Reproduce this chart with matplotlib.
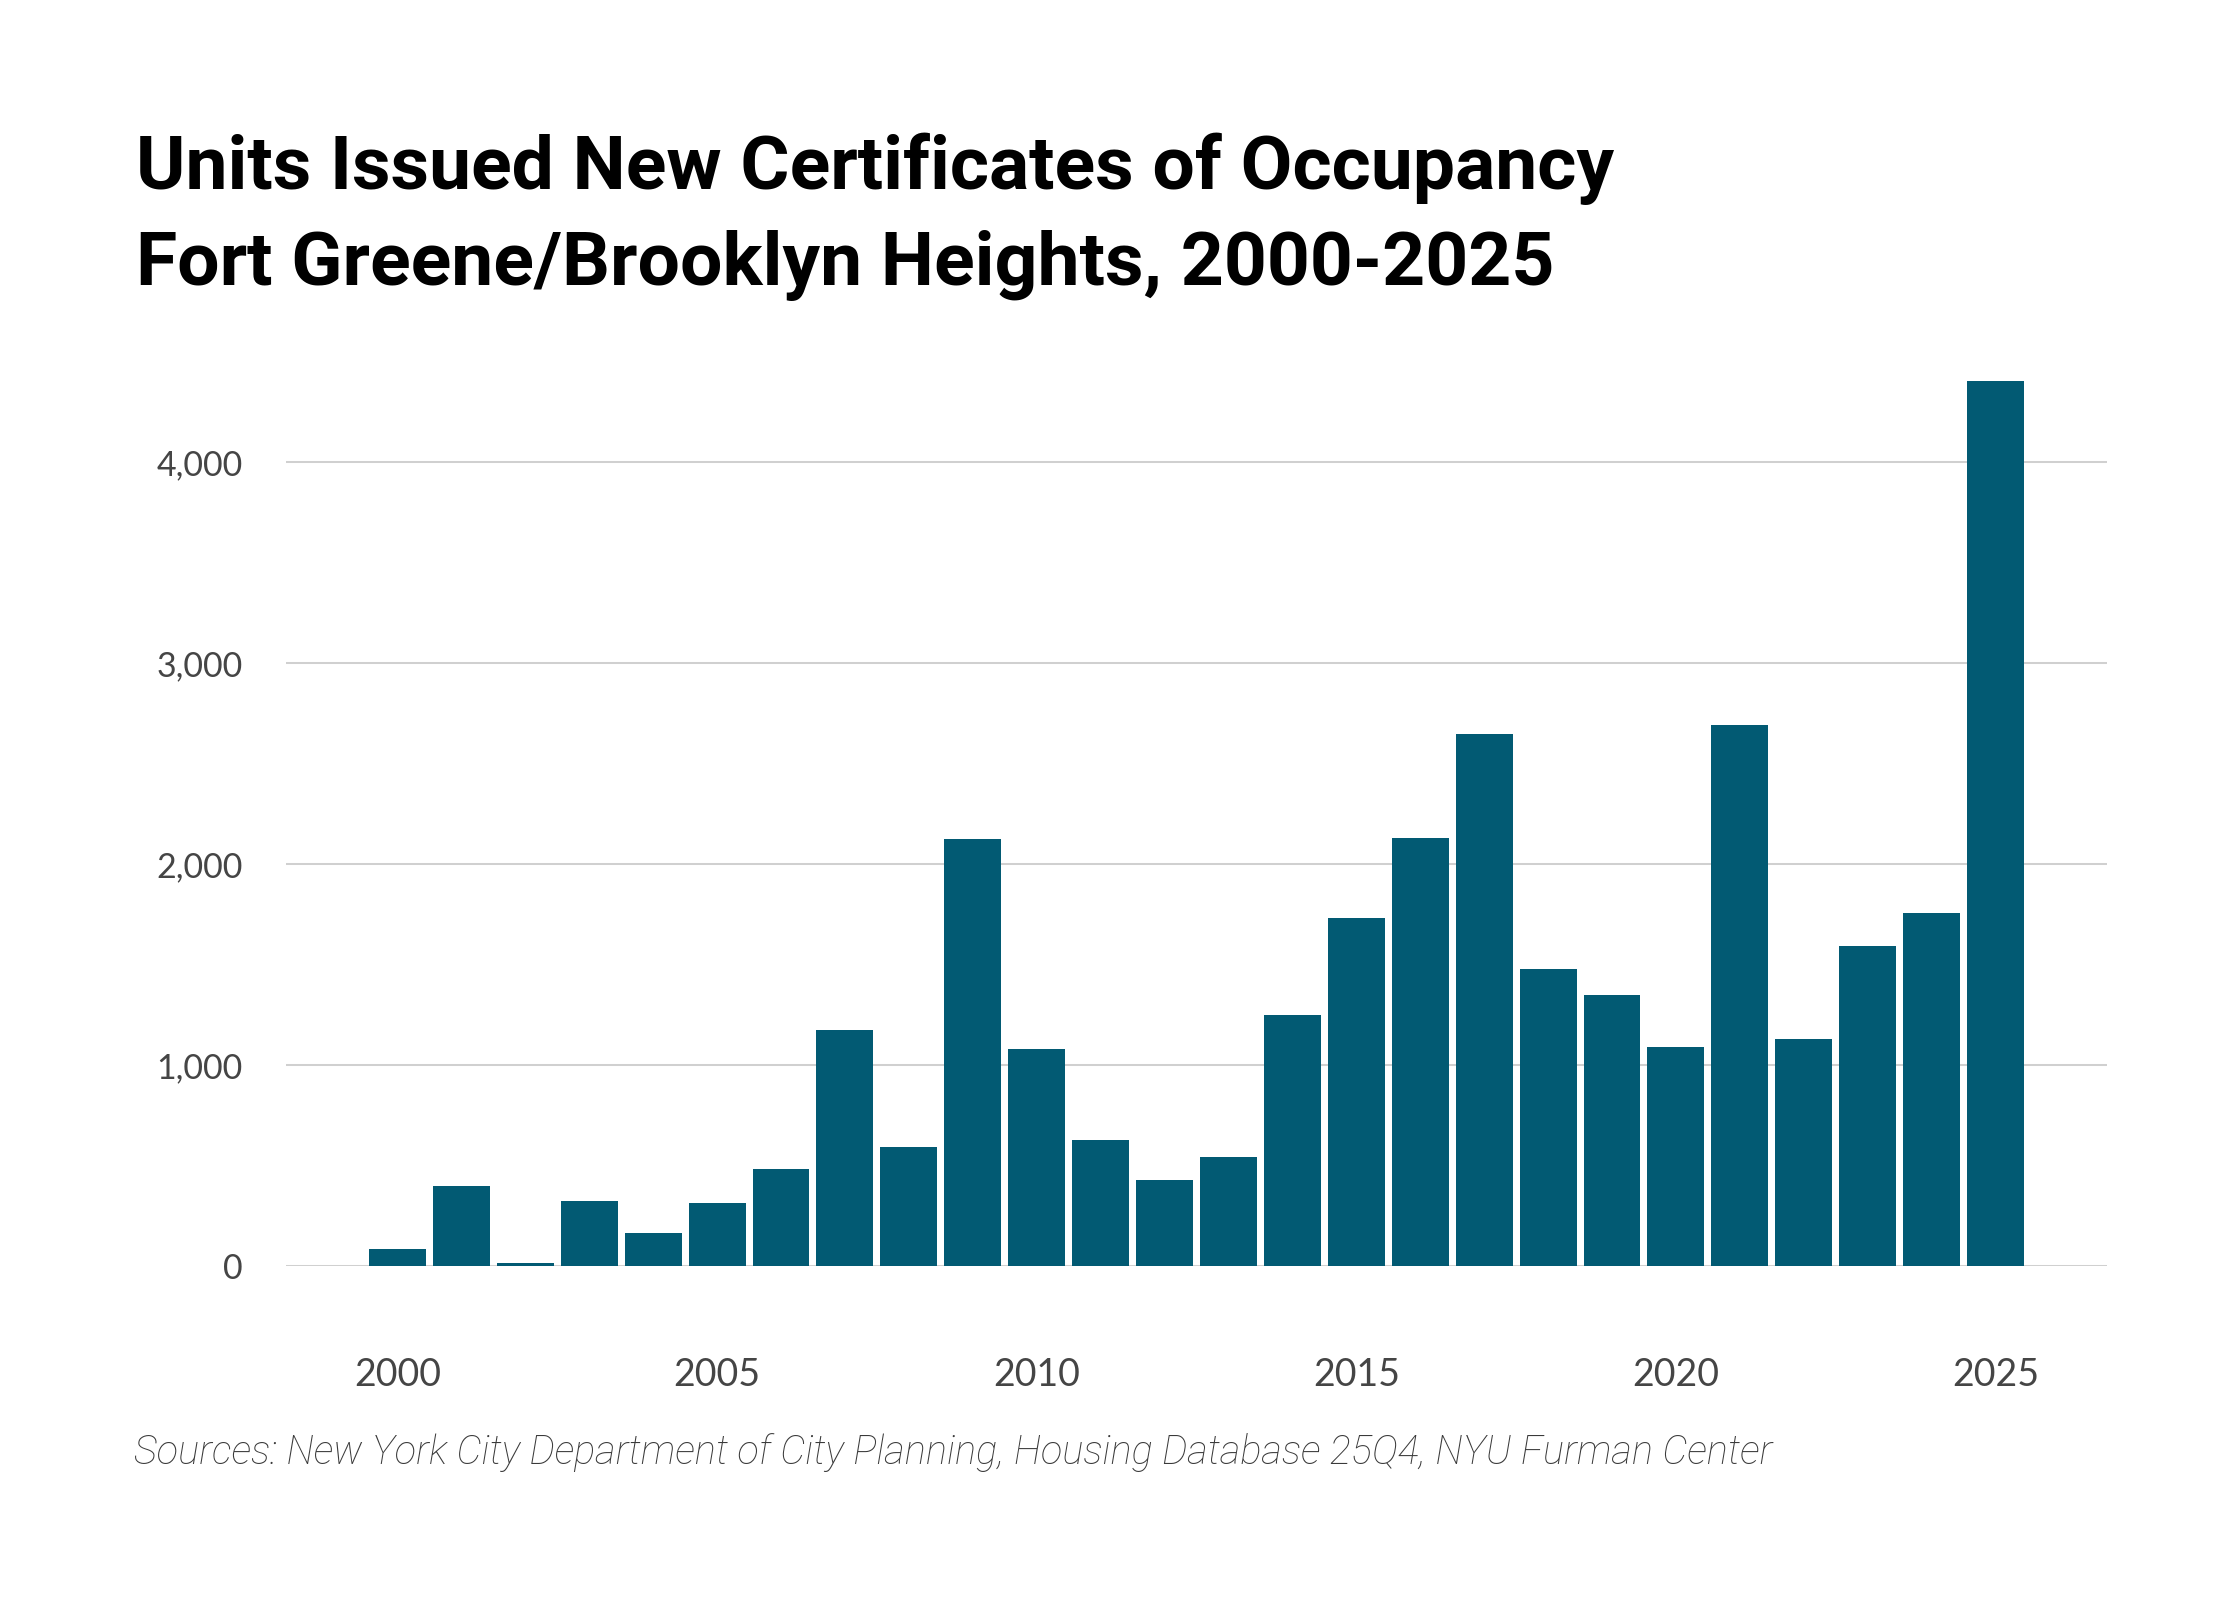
import matplotlib
matplotlib.use("Agg")
import matplotlib.pyplot as plt
from matplotlib.ticker import FuncFormatter, FixedLocator

years = list(range(2000, 2026))
units = [85, 398, 14, 320, 163, 312, 483, 1172, 590, 2124, 1080, 625, 426, 540,
         1250, 1733, 2131, 2649, 1477, 1349, 1087, 2692, 1129, 1591, 1754, 4405]
yticks = [0, 1000, 2000, 3000, 4000]
xticks = [2000, 2005, 2010, 2015, 2020, 2025]
title_lines = ["Units Issued New Certificates of Occupancy",
               "Fort Greene/Brooklyn Heights, 2000-2025"]
source = "Sources: New York City Department of City Planning, Housing Database 25Q4, NYU Furman Center"

W, H = 2240, 1600
fig = plt.figure(figsize=(W / 100, H / 100), dpi=100)
fig.patch.set_facecolor("white")

ax_left, ax_right = 286 / W, 2107 / W
ax_bottom = 1 - 1265.7 / H
ax_top = 1 - 361.9 / H
ax = fig.add_axes([ax_left, ax_bottom, ax_right - ax_left, ax_top - ax_bottom])

ax.bar(years, units, width=0.89, color="#025A73", zorder=3)
ax.set_xlim(1998.256, 2026.744)
ax.set_ylim(0, 4500)
ax.yaxis.set_major_locator(FixedLocator(yticks))
ax.xaxis.set_major_locator(FixedLocator(xticks))
ax.yaxis.set_major_formatter(FuncFormatter(lambda v, p: f"{int(v):,}"))
ax.grid(axis="y", color="#d0d0d0", linewidth=1.45, zorder=0)
ax.grid(axis="x", visible=False)
for s in ax.spines.values():
    s.set_visible(False)
ax.tick_params(axis="both", length=0, labelcolor="#454545")
ax.tick_params(axis="y", pad=31, labelsize=24.5)
ax.tick_params(axis="x", pad=66, labelsize=27)
for lab in ax.get_xticklabels() + ax.get_yticklabels():
    lab.set_fontfamily("Lato")

# Title
fig.canvas.draw()
renderer = fig.canvas.get_renderer()
t1 = fig.text(136 / W, 1 - 189 / H, title_lines[0], fontsize=50, fontweight="bold",
              family="Roboto", color="#000000", ha="left", va="baseline")
t2 = fig.text(136 / W, 1 - 285 / H, title_lines[1], fontsize=50, fontweight="bold",
              family="Roboto", color="#000000", ha="left", va="baseline")
w1 = t1.get_window_extent(renderer).width
scale = 1480 / w1
t1.set_fontsize(50 * scale)
t2.set_fontsize(50 * scale)

src = fig.text(134 / W, 1 - 1464 / H, source, fontsize=26, fontweight="light",
               style="italic", family="Roboto", color="#3a3a3a", ha="left", va="baseline")
ws = src.get_window_extent(renderer).width
src.set_fontsize(26 * 1637 / ws)

fig.savefig("out.png", dpi=100, facecolor="white")
